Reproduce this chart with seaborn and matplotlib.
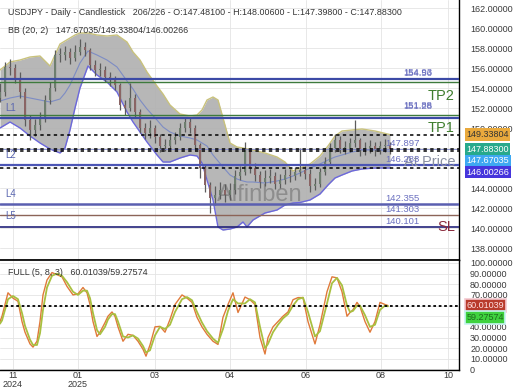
import numpy as np
import pandas as pd
import seaborn as sns
import matplotlib.pyplot as plt
import matplotlib.transforms as mtransforms

sns.set_theme(style="white")
plt.rcParams['font.family'] = ['Liberation Sans', 'DejaVu Sans']

# --- candles, one every 5 time units ---
first_open = 153.0
close = [153.6, 156.1, 156.0, 155.0, 153.6, 150.8, 149.8, 150.3, 151.0, 152.8,
         154.0, 157.3, 157.3, 157.6, 157.0, 157.6, 158.1, 157.8, 156.3, 155.8,
         155.8, 155.1, 154.8, 154.3, 152.3, 152.0, 153.0, 151.6, 150.0, 149.5,
         150.0, 149.1, 148.2, 148.2, 148.8, 149.1, 150.0, 150.6, 150.0, 148.3,
         146.0, 144.3, 143.0, 143.3, 143.8, 143.3, 143.8, 145.2, 145.6, 147.8,
         146.0, 145.3, 144.6, 145.0, 145.2, 144.4, 144.8, 145.3, 145.2, 145.6,
         145.8, 145.4, 144.2, 144.4, 145.6, 146.6, 148.0, 148.8, 148.0, 148.0,
         148.5, 148.8, 147.8, 148.0, 148.2, 147.8, 148.2, 148.3, 147.88]
high = [154.5, 156.6, 156.9, 156.4, 155.6, 154.0, 151.3, 150.9, 151.6, 153.3,
        154.6, 157.8, 158.0, 158.2, 158.0, 158.3, 158.9, 158.6, 158.0, 156.8,
        156.5, 156.2, 155.6, 155.2, 154.5, 152.8, 154.5, 153.4, 151.9, 150.5,
        150.8, 150.3, 149.4, 148.9, 149.3, 149.6, 150.5, 151.1, 151.0, 150.3,
        148.5, 146.4, 144.6, 144.2, 144.6, 144.4, 144.5, 145.8, 146.2, 148.6,
        148.0, 146.5, 145.7, 145.8, 145.9, 145.6, 145.4, 145.9, 145.9, 146.1,
        148.0, 146.2, 145.9, 145.0, 146.0, 147.1, 148.5, 149.4, 149.2, 148.7,
        149.0, 150.8, 149.0, 148.6, 148.8, 148.6, 148.7, 148.9, 148.6]
low = [152.6, 153.2, 155.3, 154.5, 153.0, 150.2, 148.8, 149.2, 149.8, 150.6,
       152.4, 153.7, 156.6, 156.8, 156.4, 156.7, 157.3, 157.2, 155.8, 155.2,
       155.2, 154.6, 154.2, 153.8, 151.8, 151.3, 151.7, 151.0, 149.5, 148.9,
       149.0, 148.5, 147.6, 147.7, 147.9, 148.4, 148.8, 149.6, 149.5, 147.8,
       145.0, 143.6, 141.5, 142.3, 142.9, 142.6, 142.8, 143.4, 144.8, 145.3,
       145.5, 144.7, 144.0, 144.2, 144.5, 143.9, 144.0, 144.4, 144.6, 144.8,
       145.2, 144.9, 143.6, 143.8, 144.1, 145.3, 146.3, 147.6, 147.5, 147.4,
       147.6, 148.1, 147.2, 147.3, 147.5, 147.2, 147.4, 147.6, 147.4]

# --- Bollinger (20, 2) ---
bb_t = [0, 10, 20, 30, 40, 50, 60, 65, 70, 75, 80, 88, 97, 107, 117, 127, 133,
        140, 147, 157, 163, 170, 180, 190, 197, 202, 207, 213, 218, 223, 230,
        237, 243, 247, 253, 265, 277, 285, 293, 300, 310, 320, 328, 335, 342,
        352, 362, 375, 390]
bb_upper = [155.8, 156.6, 156.8, 157.1, 157.2, 156.2, 158.4, 158.7, 159.0, 159.3,
            159.5, 159.5, 159.3, 159.2, 159.3, 158.6, 157.6, 156.8, 155.6, 154.2,
            153.4, 152.3, 151.4, 151.2, 151.3, 151.8, 152.8, 153.1, 152.8, 151.0,
            148.5, 148.1, 148.0, 147.9, 147.8, 147.5, 147.1, 146.6, 145.7, 146.0,
            146.4, 147.2, 148.2, 149.2, 149.7, 149.8, 149.9, 149.7, 149.34]
bb_mid = [152.7, 153.0, 153.2, 153.0, 152.8, 152.6, 152.9, 153.5, 154.3, 155.4,
          156.5, 157.7, 157.3, 156.8, 156.1, 154.7, 153.9, 152.8, 151.9, 150.8,
          150.1, 149.6, 149.2, 149.0, 148.8, 148.5, 148.2, 147.3, 146.7, 146.1,
          145.3, 144.9, 144.7, 144.6, 144.6, 144.5, 144.7, 144.9, 145.2, 145.5,
          146.0, 146.4, 146.8, 147.1, 147.3, 147.6, 147.8, 147.8, 147.67]
bb_lower = [150.0, 150.6, 150.0, 149.2, 148.5, 147.9, 147.5, 148.0, 149.8, 152.0,
            154.0, 156.2, 155.3, 154.6, 153.6, 151.6, 150.6, 149.6, 148.6, 147.3,
            146.6, 146.6, 147.0, 147.3, 147.2, 146.5, 144.8, 142.8, 140.1, 139.8,
            139.9, 140.1, 140.6, 140.1, 140.8, 141.5, 141.8, 142.3, 142.5, 142.55,
            142.8, 143.4, 144.3, 145.0, 145.3, 145.7, 145.9, 146.0, 146.0]

# --- stochastic FULL (5, 8, 3) ---
st_t = [0, 2, 8, 13, 18, 22, 25, 30, 33, 37, 40, 43, 47, 52, 57, 62, 67, 73, 78, 83,
        87, 90, 93, 97, 100, 105, 108, 112, 115, 118, 123, 128, 133, 138, 143, 146,
        150, 155, 160, 165, 170, 175, 182, 187, 192, 197, 202, 207, 213, 218, 223,
        228, 233, 238, 245, 250, 255, 260, 265, 268, 273, 278, 283, 288, 293, 298,
        303, 308, 315, 320, 327, 332, 337, 342, 347, 350, 353, 357, 360, 365, 370,
        375, 380, 385, 388]
st_k = [45, 50, 72, 67, 64, 45, 35, 24, 21, 26.5, 45, 70, 84, 91, 89, 87, 78, 70, 71, 77,
        72, 61, 45, 31, 35, 44, 50, 54, 50, 40, 26.5, 33, 32, 26.5, 19, 12.5, 23, 40, 40.5, 35,
        47, 61, 70, 67, 63, 49, 40, 33, 26.5, 23.5, 49, 61, 72, 53.5, 68, 65.5, 61, 30, 14.5, 30,
        40, 45, 50, 54, 65.5, 67.5, 67.5, 45, 24, 42, 73, 87, 86, 73, 50, 53.5, 56, 63, 59, 45,
        35, 45, 63, 61, 60.01]
st_d = [43, 46, 66, 69, 66, 53, 41, 28, 23, 23, 34, 56, 77, 88, 90, 88, 82, 73, 70, 74,
        74, 67, 53, 37, 33, 40, 47, 52, 52, 45, 31, 30, 32, 29, 22, 16, 18, 32, 40, 38,
        42, 54, 66, 68, 65, 54, 44, 36, 29, 25, 38, 55, 66, 62, 62, 66, 63, 40, 20, 24,
        35, 42, 48, 52, 60, 66, 67.5, 54, 31, 36, 62, 81, 86, 79, 60, 54, 55, 60, 60, 51,
        40, 42, 56, 60, 59.28]

# --- levels ---
line_levels = [154.93, 154.56, 151.28, 150.98, 147.897, 146.283, 142.355, 141.303, 140.101]
line_colors = ['#3c4aa6', '#3d7a3d', '#3d7a3d', '#3c4aa6', '#7c84c8', '#4b55b5', '#5a5fb0', '#8c6458', '#23237a']
line_widths = [1.6, 1.0, 1.0, 1.6, 0.6, 1.6, 1.8, 1.0, 1.2]
level_texts = ['154.93', '154.56', '151.88', '151.28', '147.897', '146.283', '142.355', '141.303', '140.101']
zone_names = ['L1', 'L2', 'L4', 'L5']
zone_levels = [150.98, 146.283, 142.355, 140.101]
bb_last = [149.33804, 147.88300, 147.67035, 146.00266]   # upper, close, mid, lower
tag_colors = ['#e9a93d', '#27a98c', '#3ea8f2', '#4635dc']
tag_text = ['#333333', 'white', 'white', 'white']
st_last = [60.01039, 59.27574]

tick_t = [13, 78, 155, 230, 306, 381, 448]
tick_labels = ['11\n2024', '01\n2025', '03', '04', '06', '08', '10']

# price axis labels hidden behind the value tags in the original
price_ticks = [138, 140, 142, 144, 150, 152, 154, 156, 158, 160, 162]
stoch_ticks = [0, 10, 20, 30, 40, 70, 80, 90, 100]

# ------------------------------------------------------------
W, H = 520, 390
fig = plt.figure(figsize=(W / 100, H / 100), dpi=100)
ax = fig.add_axes([0, 130 / H, 459 / W, 260 / H])
ax2 = fig.add_axes([0, 20 / H, 459 / W, 110 / H], sharex=ax)

t = np.arange(len(close)) * 5
opens = np.array([first_open] + close[:-1])
closes = np.array(close)

# Bollinger band area and lines
ax.fill_between(bb_t, bb_lower, bb_upper, color='#b3b3b3', alpha=0.95, lw=0, zorder=1)
sns.lineplot(x=bb_t, y=bb_upper, ax=ax, color='#c9c27c', lw=1.0, zorder=2)
sns.lineplot(x=bb_t, y=bb_lower, ax=ax, color='#6c68dc', lw=1.0, zorder=2)
sns.lineplot(x=bb_t, y=bb_mid, ax=ax, color='#7d8cc4', lw=0.8, zorder=2)

# candles
ax.vlines(t, low, high, color='#5c5c5c', lw=0.9, zorder=3)
body_lo = np.minimum(opens, closes)
body_h = np.maximum(np.abs(closes - opens), 0.08)
body_col = np.where(closes >= opens, '#6e7e6e', '#8a6464')
ax.bar(t, body_h, bottom=body_lo, width=2.0, color=body_col, edgecolor='none', zorder=3)

# horizontal levels
for v, c, w in zip(line_levels, line_colors, line_widths):
    ax.axhline(v, color=c, lw=w, zorder=4)
for v in bb_last:
    ax.axhline(v, color='black', lw=1.1, ls=(0, (2.2, 2.2)), zorder=5)

# level value labels
lab_x = [403, 403, 403, 403, 385, 385, 385, 385, 385]
lab_dy = [1.5, 3.0, 3.5, 5.5, 1, 1, 1, 1, 1]
for v, s, x, dy in zip(line_levels, level_texts, lab_x, lab_dy):
    ax.annotate(s, (x, v), xytext=(0, dy), textcoords='offset points',
                fontsize=6.8, color='#6b70c0', va='bottom', ha='left', zorder=6)
for n, v in zip(zone_names, zone_levels):
    ax.annotate(n, (5, v), xytext=(0, 4), textcoords='offset points',
                fontsize=7, color='#5a66b0', va='bottom', ha='left', zorder=6)

# big level tags
ax.annotate('TP2', (455, 154.56), xytext=(0, -9.5), textcoords='offset points',
            fontsize=10.5, color='#3f7d2e', ha='right', va='center', zorder=6)
ax.annotate('TP1', (455, 150.98), xytext=(0, -7), textcoords='offset points',
            fontsize=10.5, color='#3f7d2e', ha='right', va='center', zorder=6)
ax.annotate('At Price', (455, 146.283), xytext=(0, 2.5), textcoords='offset points',
            fontsize=10.5, color='#8a90a2', ha='right', va='center', zorder=5.5)
ax.annotate('SL', (455, 140.101), xytext=(0, 0), textcoords='offset points',
            fontsize=10.5, color='#8a2a3c', ha='right', va='center', zorder=6)
ax.text(260, 143.3, 'Alfinben', fontsize=17, color='#5a5a5a', alpha=0.45,
        ha='center', va='center', zorder=6)

# header texts
ax.text(8, 161.6, 'USDJPY - Daily - Candlestick   206/226 - O:147.48100 - H:148.00600 '
        '- L:147.39800 - C:147.88300', fontsize=6.4, color='#333333', va='center', zorder=7)
ax.text(8, 159.8, 'BB (20, 2)   147.67035/149.33804/146.00266', fontsize=6.4,
        color='#333333', va='center', zorder=7)

# stochastic panel
ax2.axhline(60, color='black', lw=1.3, ls=(0, (1.5, 1.5)), zorder=4)
sns.lineplot(x=st_t, y=st_k, ax=ax2, color='#e0793a', lw=1.0, zorder=3)
sns.lineplot(x=st_t, y=st_d, ax=ax2, color='#a8c040', lw=1.3, zorder=3)
ax2.text(8, 91, 'FULL (5, 8, 3)   60.01039/59.27574', fontsize=6.4, color='#333333',
         va='center', zorder=7)

# axes styling
ax.set_xlim(0, 459)
ax.set_ylim(136.8, 162.8)
ax2.set_ylim(-0.5, 102.8)
for a in (ax, ax2):
    a.yaxis.tick_right()
    a.tick_params(axis='both', length=0, labelsize=6.5, labelcolor='#3a3a3a', pad=8)
    a.set_axisbelow(True)
    for s in ('left', 'top'):
        a.spines[s].set_visible(False)
    for s in ('right', 'bottom'):
        a.spines[s].set_color('black')
        a.spines[s].set_linewidth(1.0)
    a.set_xlabel('')
    a.set_ylabel('')
ax2.spines['top'].set_visible(True)
ax2.spines['top'].set_color('black')

# grid lines at every level, labels only where the original shows them
for v in range(138, 163, 2):
    ax.axhline(v, color='#e4e4e4', lw=0.6, zorder=0)
for v in range(0, 101, 10):
    ax2.axhline(v, color='#e4e4e4', lw=0.6, zorder=0)
for a in (ax, ax2):
    for x in tick_t:
        a.axvline(x, color='#e4e4e4', lw=0.6, zorder=0)

ax.set_yticks(price_ticks)
ax.set_yticklabels([f'{v:.5f}' for v in price_ticks])
ax2.set_yticks(stoch_ticks)
ax2.set_yticklabels([f'{v:.5f}' if v > 0 else '0' for v in stoch_ticks])
ax2.set_xticks(tick_t)
ax2.set_xticklabels(tick_labels, linespacing=0.95)
ax2.tick_params(axis='x', pad=1)
plt.setp(ax.get_xticklabels(), visible=False)

# last-value tags on the price axis
tr = mtransforms.blended_transform_factory(ax.transAxes, ax.transData)
pos = []
for v in bb_last:
    p = v if not pos else min(v, pos[-1] - 1.15)
    pos.append(p)
for v, p, c, tc in zip(bb_last, pos, tag_colors, tag_text):
    ax.text(1.016, p, f'{v:.5f}', transform=tr, fontsize=6.5, color=tc, va='center',
            ha='left', bbox=dict(boxstyle='square,pad=0.18', fc=c, ec='none'),
            clip_on=False, zorder=8)

tr2 = mtransforms.blended_transform_factory(ax2.transAxes, ax2.transData)
ax2.text(1.016, st_last[0], f'{st_last[0]:.5f}', transform=tr2, fontsize=6.5,
         color='#ffe0e0', va='center', ha='left', clip_on=False, zorder=8,
         bbox=dict(boxstyle='square,pad=0.18', fc='#b83b2c', ec='#f4c8d0', lw=1.2))
ax2.text(1.016, st_last[1] - 10.5, f'{st_last[1]:.5f}', transform=tr2, fontsize=6.5,
         color='#1d6b1d', va='center', ha='left', clip_on=False, zorder=8,
         bbox=dict(boxstyle='square,pad=0.18', fc='#3fd23f', ec='#c8f4f4', lw=1.2))

fig.savefig('out.png', dpi=100)
